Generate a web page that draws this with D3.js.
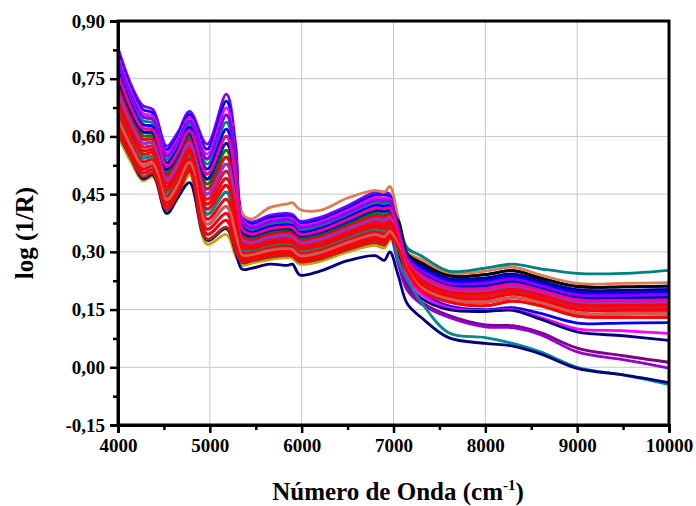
<!DOCTYPE html>
<html lang="pt">
<head>
<meta charset="UTF-8">
<title>Espectros NIR - log (1/R)</title>
<script src="https://d3js.org/d3.v7.min.js"></script>
<style>
    body { margin: 0; background: #fff; }
    svg text { font-family: "Liberation Serif", "Times New Roman", serif; font-weight: bold; fill: #000; }
    .grid line { stroke: #c8c8c8; stroke-width: 1px; }
    .spectrum { fill: none; stroke-width: 2.8px; stroke-linejoin: round; }
</style>
</head>
<body>
<div id="chart"></div>
<script>
    const wavenumbers = [4000, 4150, 4270, 4380, 4530, 4650, 4780, 4970, 5180, 5280, 5350, 5450, 5650, 5850, 5900, 5980, 6200, 6500, 6800, 6900, 6960,
                         7050, 7150, 7300, 7600, 8000, 8300, 8600, 9000, 9500, 10000];

    // 4000 - 6960 cm-1 part of the spectra
    const preShapes = [
        [0.830, 0.730, 0.680, 0.670, 0.575, 0.610, 0.665, 0.580, 0.710, 0.580, 0.400, 0.378, 0.395, 0.400, 0.397, 0.380, 0.390, 0.420, 0.455, 0.455, 0.450],
        [0.819, 0.720, 0.670, 0.661, 0.566, 0.602, 0.657, 0.567, 0.692, 0.566, 0.393, 0.373, 0.389, 0.394, 0.392, 0.375, 0.384, 0.414, 0.448, 0.448, 0.444],
        [0.807, 0.710, 0.660, 0.652, 0.557, 0.593, 0.648, 0.554, 0.674, 0.551, 0.386, 0.367, 0.383, 0.388, 0.386, 0.369, 0.378, 0.408, 0.441, 0.440, 0.438],
        [0.796, 0.700, 0.651, 0.644, 0.549, 0.585, 0.640, 0.541, 0.656, 0.537, 0.380, 0.362, 0.378, 0.383, 0.380, 0.364, 0.373, 0.402, 0.434, 0.433, 0.432],
        [0.784, 0.690, 0.641, 0.635, 0.540, 0.576, 0.632, 0.528, 0.637, 0.522, 0.373, 0.356, 0.372, 0.377, 0.374, 0.358, 0.367, 0.396, 0.427, 0.426, 0.426],
        [0.773, 0.680, 0.631, 0.626, 0.531, 0.568, 0.624, 0.515, 0.619, 0.508, 0.367, 0.351, 0.366, 0.371, 0.369, 0.352, 0.361, 0.390, 0.421, 0.419, 0.420],
        [0.761, 0.670, 0.621, 0.617, 0.522, 0.559, 0.615, 0.502, 0.600, 0.493, 0.360, 0.346, 0.360, 0.365, 0.363, 0.346, 0.355, 0.384, 0.414, 0.412, 0.414],
        [0.750, 0.660, 0.612, 0.609, 0.514, 0.551, 0.607, 0.489, 0.582, 0.479, 0.353, 0.341, 0.355, 0.360, 0.357, 0.341, 0.350, 0.378, 0.407, 0.405, 0.408],
        [0.738, 0.650, 0.602, 0.600, 0.505, 0.542, 0.599, 0.476, 0.564, 0.464, 0.346, 0.335, 0.349, 0.354, 0.351, 0.335, 0.344, 0.372, 0.400, 0.397, 0.402],
        [0.727, 0.640, 0.593, 0.592, 0.497, 0.534, 0.591, 0.463, 0.546, 0.450, 0.340, 0.330, 0.344, 0.349, 0.346, 0.330, 0.339, 0.366, 0.393, 0.390, 0.396],
        [0.715, 0.630, 0.583, 0.583, 0.488, 0.525, 0.583, 0.450, 0.528, 0.435, 0.333, 0.324, 0.338, 0.343, 0.340, 0.324, 0.333, 0.360, 0.386, 0.383, 0.390],
        [0.704, 0.620, 0.573, 0.574, 0.479, 0.517, 0.575, 0.437, 0.510, 0.421, 0.326, 0.319, 0.332, 0.337, 0.335, 0.319, 0.327, 0.354, 0.379, 0.376, 0.384],
        [0.692, 0.610, 0.563, 0.565, 0.470, 0.508, 0.566, 0.424, 0.491, 0.406, 0.319, 0.313, 0.326, 0.331, 0.329, 0.313, 0.321, 0.348, 0.372, 0.368, 0.378],
        [0.681, 0.600, 0.554, 0.557, 0.462, 0.500, 0.558, 0.411, 0.473, 0.392, 0.313, 0.308, 0.321, 0.326, 0.323, 0.308, 0.316, 0.342, 0.365, 0.361, 0.372],
        [0.669, 0.590, 0.544, 0.548, 0.453, 0.491, 0.550, 0.398, 0.455, 0.377, 0.306, 0.302, 0.315, 0.320, 0.317, 0.302, 0.310, 0.336, 0.358, 0.354, 0.366],
        [0.658, 0.580, 0.534, 0.539, 0.444, 0.483, 0.542, 0.385, 0.437, 0.363, 0.299, 0.297, 0.310, 0.315, 0.312, 0.296, 0.304, 0.330, 0.352, 0.347, 0.360],
        [0.646, 0.570, 0.524, 0.530, 0.435, 0.474, 0.533, 0.372, 0.418, 0.348, 0.292, 0.292, 0.304, 0.309, 0.306, 0.290, 0.298, 0.324, 0.345, 0.339, 0.354],
        [0.635, 0.560, 0.515, 0.522, 0.427, 0.466, 0.525, 0.359, 0.400, 0.334, 0.286, 0.287, 0.298, 0.303, 0.300, 0.285, 0.293, 0.318, 0.338, 0.332, 0.348],
        [0.623, 0.550, 0.505, 0.513, 0.418, 0.457, 0.517, 0.346, 0.382, 0.319, 0.279, 0.281, 0.292, 0.297, 0.294, 0.279, 0.287, 0.312, 0.331, 0.325, 0.342],
        [0.612, 0.540, 0.495, 0.504, 0.409, 0.449, 0.509, 0.333, 0.364, 0.305, 0.272, 0.276, 0.286, 0.291, 0.289, 0.274, 0.281, 0.306, 0.324, 0.318, 0.336],
        [0.600, 0.530, 0.485, 0.495, 0.400, 0.440, 0.500, 0.320, 0.345, 0.290, 0.265, 0.270, 0.280, 0.285, 0.283, 0.268, 0.275, 0.300, 0.317, 0.310, 0.330],
        [0.738, 0.650, 0.602, 0.600, 0.505, 0.542, 0.599, 0.476, 0.564, 0.464, 0.400, 0.385, 0.415, 0.425, 0.428, 0.410, 0.408, 0.440, 0.460, 0.455, 0.470],
        [0.610, 0.540, 0.490, 0.500, 0.400, 0.440, 0.480, 0.330, 0.360, 0.300, 0.255, 0.257, 0.268, 0.265, 0.268, 0.240, 0.250, 0.277, 0.290, 0.278, 0.300]
    ];

    // 7050 - 10000 cm-1 part of the spectra
    const postShapes = [
        [0.390, 0.300, 0.280, 0.245, 0.250, 0.260, 0.240, 0.218, 0.218, 0.220],
        [0.382, 0.295, 0.272, 0.238, 0.241, 0.251, 0.232, 0.210, 0.209, 0.211],
        [0.374, 0.290, 0.264, 0.230, 0.232, 0.242, 0.224, 0.201, 0.200, 0.202],
        [0.368, 0.287, 0.258, 0.225, 0.226, 0.236, 0.218, 0.195, 0.194, 0.196],
        [0.362, 0.283, 0.252, 0.219, 0.219, 0.229, 0.212, 0.188, 0.187, 0.189],
        [0.356, 0.279, 0.246, 0.214, 0.212, 0.223, 0.206, 0.182, 0.181, 0.182],
        [0.350, 0.275, 0.240, 0.208, 0.205, 0.216, 0.200, 0.176, 0.174, 0.175],
        [0.344, 0.272, 0.234, 0.202, 0.199, 0.210, 0.194, 0.170, 0.168, 0.169],
        [0.338, 0.268, 0.228, 0.196, 0.192, 0.203, 0.188, 0.163, 0.161, 0.162],
        [0.332, 0.264, 0.222, 0.191, 0.185, 0.197, 0.182, 0.157, 0.155, 0.155],
        [0.326, 0.260, 0.216, 0.185, 0.178, 0.190, 0.176, 0.150, 0.148, 0.148],
        [0.318, 0.255, 0.208, 0.178, 0.169, 0.181, 0.168, 0.141, 0.139, 0.139],
        [0.310, 0.250, 0.200, 0.170, 0.160, 0.172, 0.160, 0.133, 0.130, 0.130],
        [0.380, 0.310, 0.290, 0.250, 0.258, 0.268, 0.256, 0.244, 0.244, 0.252],
        [0.310, 0.240, 0.195, 0.160, 0.150, 0.155, 0.140, 0.115, 0.115, 0.116],
        [0.300, 0.235, 0.190, 0.155, 0.147, 0.150, 0.130, 0.100, 0.095, 0.088],
        [0.290, 0.220, 0.180, 0.150, 0.145, 0.148, 0.125, 0.092, 0.082, 0.070],
        [0.280, 0.210, 0.170, 0.135, 0.110, 0.108, 0.090, 0.050, 0.030, 0.013],
        [0.270, 0.200, 0.165, 0.130, 0.105, 0.103, 0.085, 0.040, 0.020, -0.002],
        [0.280, 0.226, 0.170, 0.090, 0.077, 0.062, 0.040, 0.000, -0.020, -0.045],
        [0.240, 0.165, 0.130, 0.077, 0.062, 0.055, 0.035, -0.003, -0.020, -0.040]
    ];

    // which pre / post part each sample uses
    const samplePre  = [0, 1, 2, 3, 21, 4, 5, 6, 7, 8, 9, 10, 11, 12, 13, 14, 15, 16, 17, 18, 19, 20, 14, 22, 5, 9, 11, 13, 15, 17, 19, 7, 10, 12, 3, 16, 18, 6];
    const samplePost = [4, 2, 3, 1, 0, 13, 6, 2, 4, 5, 1, 14, 7, 15, 8, 16, 9, 17, 10, 18, 8, 10, 19, 20, 3, 6, 9, 10, 11, 12, 11, 5, 7, 8, 4, 11, 12, 6];

    const lineColors = ["#7a00ff", "#0000ff", "#ff00ff", "#000080", "#e07b4f", "#008080", "#ff69b4", "#000080", "#800080", "#008000",
                        "#000000", "#0000ff", "#ff0000", "#ff00ff", "#800000", "#000080", "#ff0000", "#800080", "#ff1493", "#9400d3",
                        "#808000", "#c8a000", "#008b8b", "#000080", "#0000ff", "#ff0000", "#dc143c", "#ff0000", "#ff0000", "#ff0000",
                        "#b22222", "#0000cd", "#9932cc", "#ff0000", "#8b00ff", "#cd5c5c", "#ff0000", "#ff0080"];

    const xTicks = [4000, 5000, 6000, 7000, 8000, 9000, 10000];
    const xMinor = [4500, 5500, 6500, 7500, 8500, 9500];
    const yTicks = [-0.15, 0.00, 0.15, 0.30, 0.45, 0.60, 0.75, 0.90];
    const yMinor = [-0.075, 0.075, 0.225, 0.375, 0.525, 0.675, 0.825];

    var spectra = samplePre.map((p, i) => preShapes[p].concat(postShapes[samplePost[i]]));

    var width = 696, height = 506;
    var plotLeft = 118, plotRight = 669, plotTop = 21, plotBottom = 425;

    var x = d3.scaleLinear().domain([4000, 10000]).range([plotLeft, plotRight]);
    var y = d3.scaleLinear().domain([-0.15, 0.90]).range([plotBottom, plotTop]);

    var ptBR = d3.formatLocale({decimal: ",", thousands: ".", grouping: [3], currency: ["R$", ""], minus: "-"});
    var fmtY = ptBR.format(".2f");

    var svg = d3.select("#chart").append("svg")
        .attr("width", width)
        .attr("height", height);

    svg.append("defs").append("clipPath").attr("id", "plot-clip")
        .append("rect")
        .attr("x", plotLeft).attr("y", plotTop)
        .attr("width", plotRight - plotLeft).attr("height", plotBottom - plotTop);

    // grid
    var grid = svg.append("g").attr("class", "grid");
    grid.selectAll(".gx").data(xTicks).enter().append("line")
        .attr("x1", d => x(d)).attr("x2", d => x(d))
        .attr("y1", plotTop).attr("y2", plotBottom);
    grid.selectAll(".gy").data(yTicks).enter().append("line")
        .attr("x1", plotLeft).attr("x2", plotRight)
        .attr("y1", d => y(d)).attr("y2", d => y(d));

    var line = d3.line()
        .x((d, i) => x(wavenumbers[i]))
        .y(d => y(d))
        .curve(d3.curveCatmullRom.alpha(0.5));

    svg.append("g")
        .attr("clip-path", "url(#plot-clip)")
        .selectAll("path")
        .data(spectra)
        .enter().append("path")
        .attr("class", "spectrum")
        .attr("d", line)
        .style("stroke", (d, i) => lineColors[i]);

    // frame
    svg.append("rect")
        .attr("x", plotLeft).attr("y", plotTop)
        .attr("width", plotRight - plotLeft).attr("height", plotBottom - plotTop)
        .attr("fill", "none")
        .attr("stroke", "#000")
        .attr("stroke-width", 3);

    // axes
    svg.append("g")
        .attr("transform", `translate(0,${plotBottom})`)
        .call(d3.axisBottom(x).tickValues(xTicks).tickSize(8).tickPadding(6).tickFormat(d3.format("d")));
    svg.append("g")
        .attr("transform", `translate(0,${plotBottom})`)
        .call(d3.axisBottom(x).tickValues(xMinor).tickSize(5).tickFormat(""));

    svg.append("g")
        .attr("transform", `translate(${plotLeft},0)`)
        .call(d3.axisLeft(y).tickValues(yTicks).tickSize(8).tickPadding(5).tickFormat(fmtY));
    svg.append("g")
        .attr("transform", `translate(${plotLeft},0)`)
        .call(d3.axisLeft(y).tickValues(yMinor).tickSize(5).tickFormat(""));

    svg.selectAll(".domain").attr("stroke", "#000").attr("stroke-width", 3);
    svg.selectAll(".tick line").attr("stroke", "#000").attr("stroke-width", 2.5);
    svg.selectAll(".tick text")
        .style("font-family", '"Liberation Serif", "Times New Roman", serif')
        .style("font-weight", "bold")
        .style("font-size", "19px");

    // axis titles
    var xTitle = svg.append("text")
        .attr("x", 398).attr("y", 500)
        .attr("text-anchor", "middle")
        .style("font-size", "25px");
    xTitle.append("tspan").text("Número de Onda (cm");
    xTitle.append("tspan").attr("dy", -10).style("font-size", "15px").text("-1");
    xTitle.append("tspan").attr("dy", 10).text(")");

    svg.append("text")
        .attr("transform", "translate(33,233) rotate(-90)")
        .attr("text-anchor", "middle")
        .style("font-size", "25px")
        .text("log (1/R)");
</script>
</body>
</html>
